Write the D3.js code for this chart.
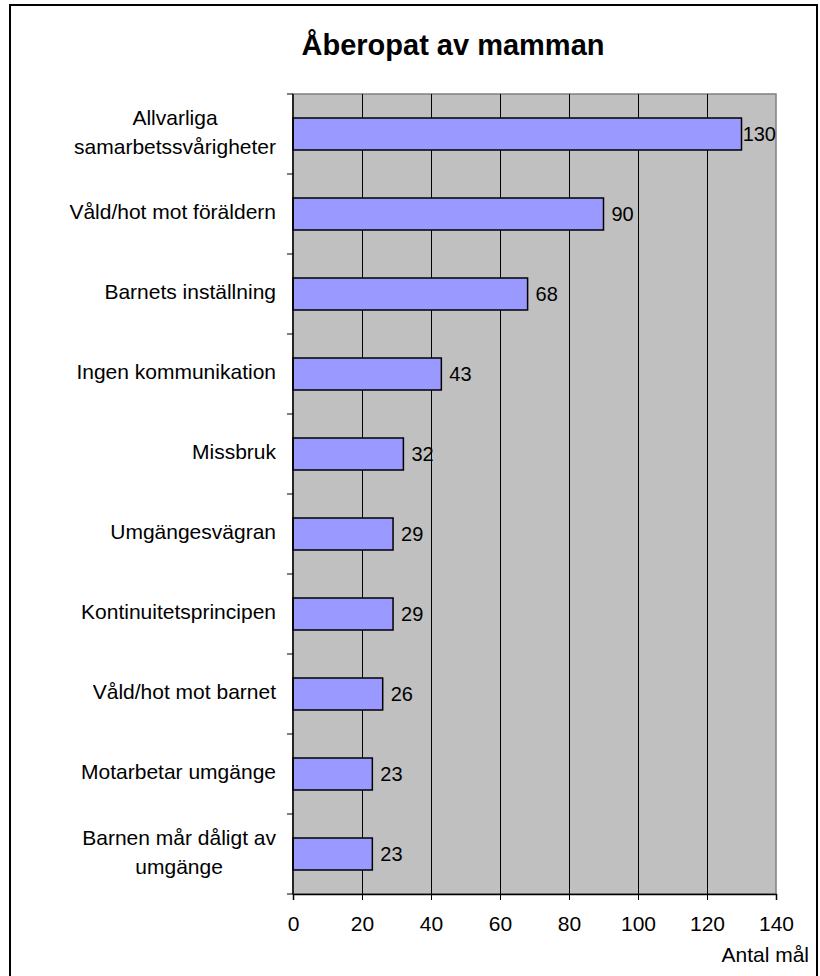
<!DOCTYPE html>
<html lang="sv">
<head>
    <meta charset="UTF-8">
    <script src="https://cdnjs.cloudflare.com/ajax/libs/d3/7.8.5/d3.min.js"></script>
    <style>
        body { margin: 0; background: #fff; }
        svg { font-family: "Liberation Sans", Arial, sans-serif; }
    </style>
</head>
<body>
    <svg id="chart" width="820" height="976"></svg>
    <script>
        // data
        let categories = [
            ["Allvarliga", "samarbetssvårigheter"],
            ["Våld/hot mot föräldern"],
            ["Barnets inställning"],
            ["Ingen kommunikation"],
            ["Missbruk"],
            ["Umgängesvägran"],
            ["Kontinuitetsprincipen"],
            ["Våld/hot mot barnet"],
            ["Motarbetar umgänge"],
            ["Barnen mår dåligt av", "umgänge"]
        ];
        let values = [130, 90, 68, 43, 32, 29, 29, 26, 23, 23];
        let xTicks = [0, 20, 40, 60, 80, 100, 120, 140];
        let title = "Åberopat av mamman";
        let xLabel = "Antal mål";

        let svg = d3.select("#chart");
        let plotL = 293, plotR = 776, plotT = 94, plotB = 894;

        // outer frame (runs past the bottom of the page)
        svg.append("rect")
            .attr("x", 10).attr("y", 5)
            .attr("width", 807).attr("height", 1000)
            .attr("fill", "#fff")
            .attr("stroke", "#000")
            .attr("stroke-width", 2);

        let xScale = d3.scaleLinear().domain([0, 140]).range([plotL, plotR]);
        let yScale = d3.scaleBand()
            .domain(d3.range(categories.length))
            .range([plotT, plotB])
            .paddingInner(0.6)
            .paddingOuter(0.3);

        // plot area
        svg.append("rect")
            .attr("x", plotL).attr("y", plotT)
            .attr("width", plotR - plotL).attr("height", plotB - plotT)
            .attr("fill", "#c0c0c0")
            .attr("stroke", "#808080")
            .attr("stroke-width", 1.5);

        // vertical gridlines
        svg.append("g")
            .selectAll("line")
            .data(xTicks.slice(1, -1))
            .enter()
            .append("line")
            .attr("x1", d => Math.round(xScale(d)) + 0.5)
            .attr("x2", d => Math.round(xScale(d)) + 0.5)
            .attr("y1", plotT).attr("y2", plotB)
            .attr("stroke", "#000")
            .attr("stroke-width", 1);

        // bars
        svg.append("g")
            .selectAll("rect")
            .data(values)
            .enter()
            .append("rect")
            .attr("x", xScale(0))
            .attr("y", (d, i) => yScale(i))
            .attr("width", d => xScale(d) - xScale(0))
            .attr("height", yScale.bandwidth())
            .attr("fill", "#9999ff")
            .attr("stroke", "#000")
            .attr("stroke-width", 1.5);

        // value labels, kept inside the plot area
        svg.append("g")
            .selectAll("text")
            .data(values)
            .enter()
            .append("text")
            .attr("y", (d, i) => yScale(i) + yScale.bandwidth() / 2)
            .attr("dy", "0.35em")
            .attr("font-size", 20)
            .text(d => d)
            .attr("x", function(d) {
                let w = this.getComputedTextLength();
                return Math.min(xScale(d) + 8, plotR - w);
            });

        // left axis: line + ticks at category boundaries
        let step = yScale.step();
        let bounds = d3.range(categories.length + 1).map(i => plotT + i * step);
        svg.append("line")
            .attr("x1", plotL).attr("x2", plotL)
            .attr("y1", plotT).attr("y2", plotB)
            .attr("stroke", "#000").attr("stroke-width", 1.5);
        svg.append("g")
            .selectAll("line")
            .data(bounds)
            .enter()
            .append("line")
            .attr("x1", plotL - 6).attr("x2", plotL)
            .attr("y1", d => d).attr("y2", d => d)
            .attr("stroke", "#000");

        // category labels: right-aligned block, lines centred within it
        let catG = svg.append("g").attr("font-size", 21);
        categories.forEach((lines, i) => {
            let cy = yScale(i) + yScale.bandwidth() / 2 + 5;
            let texts = lines.map((ln, j) => catG.append("text")
                .attr("y", cy - (lines.length - 1) * 14.5 + j * 29)
                .attr("text-anchor", "middle")
                .text(ln));
            let maxW = d3.max(texts, t => t.node().getComputedTextLength());
            texts.forEach(t => t.attr("x", 276 - maxW / 2));
        });

        // bottom axis
        let xAxis = d3.axisBottom(xScale).tickValues(xTicks).tickSize(6).tickPadding(16);
        let xAxisG = svg.append("g")
            .attr("transform", "translate(0," + plotB + ")")
            .call(xAxis);
        xAxisG.select(".domain").attr("stroke-width", 1.5);
        xAxisG.selectAll("text")
            .attr("font-size", 21)
            .attr("font-family", "Liberation Sans, Arial, sans-serif")
            .attr("fill", "#000");

        svg.append("text")
            .attr("x", 809).attr("y", 962)
            .attr("text-anchor", "end")
            .attr("font-size", 21)
            .text(xLabel);

        // title
        svg.append("text")
            .attr("x", 453).attr("y", 55)
            .attr("text-anchor", "middle")
            .attr("font-size", 29)
            .attr("font-weight", "bold")
            .text(title);
    </script>
</body>
</html>
